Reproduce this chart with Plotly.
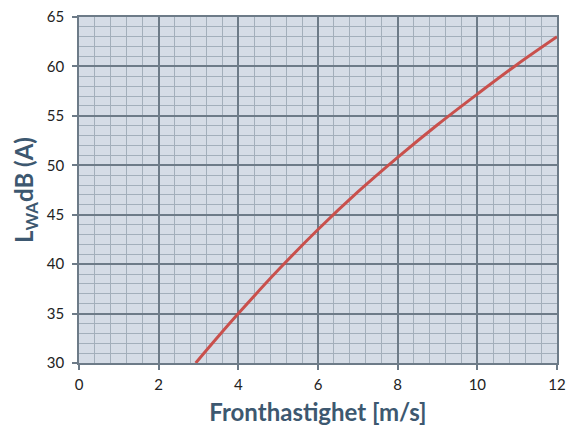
import plotly.graph_objects as go

speed = [2.93, 3.5, 4, 5, 6, 7, 8, 9, 10, 11, 12]
lwa = [30.0, 32.7, 35.0, 39.4, 43.5, 47.3, 50.8, 54.1, 57.2, 60.2, 63.0]

x_ticks = [0, 2, 4, 6, 8, 10, 12]
y_ticks = [30, 35, 40, 45, 50, 55, 60, 65]

font_family = "Lato, 'Open Sans', sans-serif"
major = "#6d7b88"
minor = "#a3afbb"

fig = go.Figure()
fig.add_trace(go.Scatter(
    x=speed, y=lwa, mode="lines",
    line=dict(color="#c9504c", width=3, shape="spline"),
    showlegend=False, hoverinfo="skip",
))

fig.update_layout(
    width=582, height=426,
    margin=dict(l=79, r=25, t=17, b=63, autoexpand=False),
    paper_bgcolor="white",
    plot_bgcolor="#d5dce6",
    font=dict(family=font_family, size=15, color="#222222"),
    xaxis=dict(
        range=[0, 12], tickvals=x_ticks, ticktext=[str(v) for v in x_ticks],
        showgrid=True, gridcolor=major, gridwidth=1.5,
        minor=dict(dtick=0.4, tick0=0, showgrid=True, gridcolor=minor, gridwidth=1),
        ticks="outside", ticklen=5, tickcolor=major, tickwidth=1.5,
        showline=True, linecolor=major, linewidth=1.5, mirror=True,
        zeroline=False, ticklabelstandoff=2,
        title=dict(text="<b>Fronthastighet [m/s]</b>",
                   font=dict(family=font_family, size=24, color="#3d5870"), standoff=12),
    ),
    yaxis=dict(
        range=[30, 65], tickvals=y_ticks, ticktext=[str(v) for v in y_ticks],
        showgrid=True, gridcolor=major, gridwidth=1.5,
        minor=dict(dtick=1, tick0=30, showgrid=True, gridcolor=minor, gridwidth=1),
        ticks="outside", ticklen=5, tickcolor=major, tickwidth=1.5,
        showline=True, linecolor=major, linewidth=1.5, mirror=True,
        zeroline=False, ticklabelstandoff=5,
        title=dict(text="<b>L<sub>WA</sub>dB (A)</b>",
                   font=dict(family=font_family, size=24, color="#3d5870"), standoff=6),
    ),
)

fig.write_html("out.html", config={"displayModeBar": False},
               post_script="document.body.style.margin='0';")
